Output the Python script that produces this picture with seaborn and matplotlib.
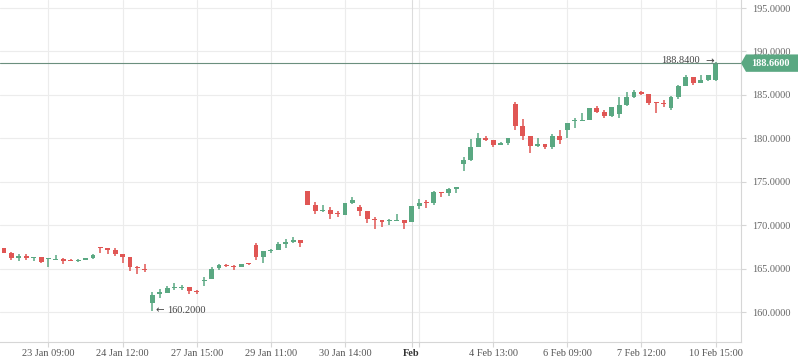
import matplotlib
matplotlib.use("Agg")
import matplotlib.pyplot as plt
import matplotlib.transforms as mtransforms
from matplotlib.patches import Polygon
import numpy as np
import pandas as pd
import seaborn as sns

# ---- data ----
opens = [167.36, 166.82, 166.25, 166.51, 166.28, 166.33, 166.10, 166.05, 166.13, 165.94,
         165.94, 166.05, 166.28, 167.51, 167.40, 167.20, 166.71, 166.36, 165.24, 164.98,
         161.10, 162.07, 162.25, 162.80, 162.80, 162.94, 162.48, 163.64, 163.86, 165.10,
         165.41, 165.29, 165.24, 165.64, 167.74, 166.36, 167.05, 167.17, 167.89, 168.09,
         168.32, 173.95, 172.34, 171.65, 171.77, 171.39, 171.23, 172.57, 172.08, 171.62,
         170.73, 170.62, 170.47, 170.54, 170.65, 170.42, 172.23, 172.69, 172.61, 173.84,
         173.76, 174.22, 177.10, 177.48, 179.05, 180.05, 179.78, 179.28, 179.51, 183.96,
         181.43, 180.28, 179.16, 179.36, 179.05, 180.28, 181.00, 182.00, 182.00, 182.15,
         183.53, 183.00, 182.61, 182.84, 183.84, 184.80, 185.37, 185.15, 184.11, 184.07,
         183.53, 184.73, 186.06, 187.06, 186.41, 186.72, 186.72]
highs = [167.36, 166.94, 166.67, 166.74, 166.36, 166.33, 166.25, 166.59, 166.21, 166.17,
         166.13, 166.25, 166.71, 167.51, 167.40, 167.36, 166.71, 166.40, 165.36, 165.59,
         162.33, 162.71, 163.06, 163.40, 163.14, 162.94, 162.60, 164.09, 165.24, 165.59,
         165.59, 165.44, 165.56, 165.71, 167.97, 167.05, 167.28, 168.09, 168.40, 168.66,
         168.32, 173.95, 172.69, 172.34, 172.08, 171.69, 172.57, 173.26, 172.31, 171.62,
         171.00, 170.62, 170.77, 171.31, 170.65, 172.23, 173.03, 172.95, 173.95, 173.84,
         174.33, 174.41, 177.90, 179.93, 180.66, 180.28, 179.78, 179.59, 180.05, 184.19,
         182.23, 180.28, 180.05, 179.36, 180.54, 180.97, 181.77, 182.35, 182.92, 183.50,
         183.73, 183.27, 183.65, 184.73, 185.37, 185.57, 185.49, 185.15, 184.11, 184.42,
         184.88, 186.11, 187.33, 187.06, 187.33, 187.33, 188.84]
lows = [166.86, 166.05, 165.90, 166.02, 165.90, 165.67, 165.21, 166.05, 165.56, 165.87,
        165.82, 166.05, 166.17, 166.86, 166.71, 166.51, 165.67, 164.78, 164.44, 164.60,
        160.20, 161.68, 162.19, 162.56, 162.56, 162.14, 162.14, 163.03, 163.86, 164.83,
        165.18, 164.83, 165.24, 165.44, 166.02, 165.67, 166.86, 167.17, 167.43, 168.01,
        167.55, 172.38, 171.34, 171.57, 170.77, 170.93, 171.23, 172.46, 171.11, 170.31,
        169.62, 169.81, 170.08, 170.54, 169.58, 170.42, 171.88, 172.03, 172.38, 173.30,
        173.41, 173.76, 176.29, 177.40, 179.05, 179.74, 179.05, 179.28, 179.28, 181.00,
        179.82, 178.36, 179.05, 178.78, 178.78, 179.36, 180.05, 181.20, 181.97, 182.15,
        182.89, 182.31, 182.43, 182.38, 183.76, 184.68, 185.00, 183.84, 182.88, 183.65,
        183.23, 184.53, 186.06, 186.14, 186.41, 186.65, 186.60]
closes = [166.86, 166.28, 166.51, 166.25, 166.36, 165.79, 166.17, 166.17, 165.94, 165.87,
          166.05, 166.25, 166.59, 167.43, 167.20, 166.74, 166.36, 165.24, 165.06, 164.90,
          161.99, 162.30, 162.80, 162.88, 162.85, 162.48, 162.30, 163.71, 164.95, 165.41,
          165.33, 165.21, 165.56, 165.52, 166.40, 167.05, 167.17, 167.86, 168.12, 168.32,
          167.97, 172.38, 171.69, 171.77, 171.34, 171.27, 172.57, 172.92, 171.69, 170.77,
          170.62, 170.42, 170.58, 170.62, 170.31, 172.23, 172.57, 172.57, 173.84, 173.72,
          174.18, 174.41, 177.53, 179.01, 180.05, 179.82, 179.28, 179.51, 180.05, 181.46,
          180.31, 179.16, 179.36, 179.01, 180.28, 179.82, 181.77, 182.08, 182.12, 183.50,
          183.07, 182.61, 183.58, 183.84, 184.73, 185.37, 185.14, 184.11, 184.03, 183.99,
          184.76, 186.03, 187.10, 186.41, 186.75, 187.33, 188.66]

tick_idx = [6, 16, 26, 36, 46, 55, 56, 66, 76, 86, 96]
tick_labels = ["23 Jan 09:00", "24 Jan 12:00", "27 Jan 15:00", "29 Jan 11:00",
               "30 Jan 14:00", "Feb", "", "4 Feb 13:00", "6 Feb 09:00",
               "7 Feb 12:00", "10 Feb 15:00"]
month_label = "Feb"
y_ticks = [160, 165, 170, 175, 180, 185, 190, 195]
last_price = 188.66
max_label = "188.8400"
min_label = "160.2000"

# ---- styling ----
UP = "#5aa882"
DOWN = "#e05654"
GRID = "#ececec"
AXIS = "#d6d6d6"

sns.set_theme(style="white")
plt.rcParams["font.family"] = ["Liberation Serif", "DejaVu Serif"]

df = pd.DataFrame({"open": opens, "high": highs, "low": lows, "close": closes})
df["idx"] = np.arange(len(df))
df["up"] = df["close"] >= df["open"]
df["color"] = np.where(df["up"], UP, DOWN)
df["bottom"] = df[["open", "close"]].min(axis=1)
df["height"] = (df["close"] - df["open"]).abs().clip(lower=0.12)

fig = plt.figure(figsize=(7.98, 3.63), dpi=100)
ax = fig.add_axes([0, 21 / 363, 741 / 798, 342 / 363])

# grid
for y in y_ticks:
    ax.axhline(y, color=GRID, lw=0.8, zorder=0)
for t, lab in zip(tick_idx, tick_labels):
    ax.axvline(t, color="#dcdcdc" if lab == month_label else GRID, lw=0.8, zorder=0)

# candles
ax.vlines(df["idx"], df["low"], df["high"], colors=df["color"], lw=1.1, zorder=2)
ax.bar(df["idx"], df["height"], bottom=df["bottom"], width=0.66,
       color=df["color"], edgecolor="none", zorder=3)

# last price line
ax.axhline(last_price, color="#6b8f7e", lw=0.8, zorder=4)

ax.set_xlim(-0.544, 99.44)
ax.set_ylim(156.584, 195.922)

ax.set_xticks(tick_idx)
ax.set_xticklabels(tick_labels)
ax.set_yticks(y_ticks)
ax.set_yticklabels([f"{v:.4f}" for v in y_ticks])
ax.yaxis.tick_right()
ax.tick_params(axis="y", length=3.5, width=0.8, color=AXIS, pad=4.2,
               labelsize=7.4, labelcolor="#666666", right=True, left=False)
ax.tick_params(axis="x", length=3.5, width=0.8, color=AXIS, pad=1.5,
               labelsize=7.4, labelcolor="#555555", bottom=True)
for lab in ax.get_xticklabels():
    if lab.get_text() == month_label:
        lab.set_fontweight("bold")
        lab.set_color("#333333")

for s in ["top", "left"]:
    ax.spines[s].set_visible(False)
for s in ["bottom", "right"]:
    ax.spines[s].set_color(AXIS)
    ax.spines[s].set_linewidth(0.8)

# high / low annotations
imax = int(np.argmax(highs))
imin = int(np.argmin(lows))
arrow_font = ["DejaVu Sans"]
ax.annotate("\u2192", xy=(imax, highs[imax]), xytext=(-1.2, 0.5), textcoords="offset points",
            ha="right", va="center", fontsize=7.4, color="#444444", family=arrow_font, zorder=5)
ax.annotate(max_label, xy=(imax, highs[imax]), xytext=(-11.2, 0.5), textcoords="offset points",
            ha="right", va="center", fontsize=7.4, color="#444444", zorder=5)
ax.annotate("\u2190", xy=(imin, lows[imin]), xytext=(2.6, 0), textcoords="offset points",
            ha="left", va="center", fontsize=7.4, color="#444444", family=arrow_font, zorder=5)
ax.annotate(min_label, xy=(imin, lows[imin]), xytext=(10.8, 0), textcoords="offset points",
            ha="left", va="center", fontsize=7.4, color="#444444", zorder=5)

# last price tag on the right
tr = mtransforms.blended_transform_factory(fig.transFigure, ax.transData)
h = 1.0
x0 = 741 / 798
x1 = 746 / 798
tag = Polygon([(x0, last_price), (x1, last_price + h), (1.0, last_price + h),
               (1.0, last_price - h), (x1, last_price - h)], closed=True,
              transform=tr, facecolor=UP, edgecolor="none", clip_on=False, zorder=6)
fig.patches.append(tag)
fig.text(751 / 798, last_price, f"{last_price:.4f}", transform=tr, ha="left",
         va="center", fontsize=7.4, fontweight="bold", color="white", zorder=7)

fig.savefig("out.png", dpi=100)
